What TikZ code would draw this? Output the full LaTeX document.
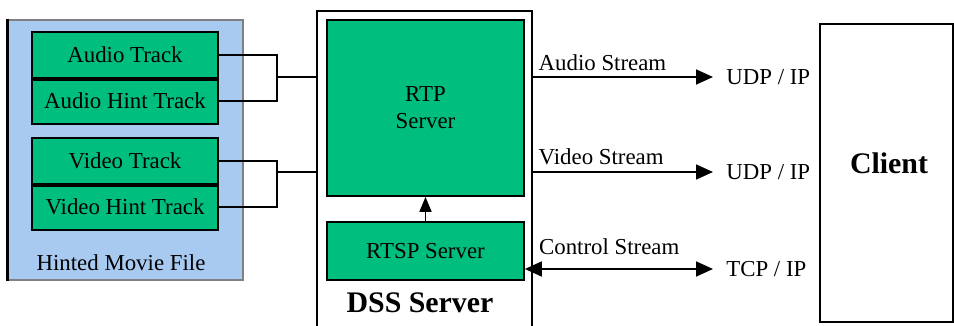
\documentclass[tikz,border=0pt]{standalone}
\usepackage{fontspec}
\setmainfont{Liberation Serif}
\usetikzlibrary{arrows.meta}
\definecolor{trackgreen}{RGB}{0,190,125}
\definecolor{fileblue}{RGB}{168,202,240}

\begin{document}
\begin{tikzpicture}[x=0.02cm,y=-0.02cm,line width=1pt,
  font=\fontsize{13}{15.5}\selectfont,
  track/.style={draw,fill=trackgreen,minimum width=3.72cm,minimum height=0.92cm,inner sep=0pt},
  srvbox/.style={draw,fill=trackgreen,minimum width=3.94cm,inner sep=0pt,align=center},
  proto/.style={anchor=west,inner xsep=0.25cm},
  tip/.style={-{Triangle[length=0.34cm,width=0.3cm]}},
  bigbold/.style={font=\fontsize{17}{20}\selectfont\bfseries}]
\useasboundingbox (0,0) rectangle (954,325);
% hinted movie file
\node[draw=black!50,fill=fileblue,minimum width=4.7cm,minimum height=5.2cm] (hmf) at (125.5,150) {};
\draw[line width=1.6pt] (hmf.north west) -- (hmf.south west);
\node (hmflbl) at (121,263) {Hinted Movie File};
\node[track] (atrack) at (125,55) {Audio Track};
\node[track] (ahint) at (125,101) {Audio Hint Track};
\node[track] (vtrack) at (125,161) {Video Track};
\node[track] (vhint) at (125,207) {Video Hint Track};
\draw[line width=2.5pt] (atrack.south west) -- (atrack.south east);
\draw[line width=2.5pt] (vtrack.south west) -- (vtrack.south east);
% dss server
\coordinate (dssne) at (532,11);
\coordinate (dsssw) at (317,330);
\coordinate (dssse) at (532,330);
\draw (dsssw) |- (dssne) -- (dssse);
\node[srvbox,minimum height=3.52cm] (rtp) at (425.5,108) {RTP\\Server};
\node[srvbox,minimum height=1.16cm] (rtsp) at (425.5,251) {RTSP Server};
\node[bigbold] (dsslbl) at (420,303) {DSS Server};
\draw[-{Triangle[length=0.3cm,width=0.24cm]}] (rtsp) -- (rtp);
% tracks to server
\coordinate (ajoin) at (277,77);
\coordinate (vjoin) at (277,172);
\draw (atrack.east) -| (ajoin) |- (ahint.east);
\draw (vtrack.east) -| (vjoin) |- (vhint.east);
\draw (ajoin) -- (ajoin -| dsssw);
\draw (vjoin) -- (vjoin -| dsssw);
% client
\node[draw,minimum width=2.66cm,minimum height=5.96cm] (client) at (886.5,173) {};
\node[bigbold] (clientlbl) at (889,163) {Client};
% streams
\node[proto] (udpa) at (713,77) {UDP / IP};
\node[proto] (udpv) at (713,172) {UDP / IP};
\node[proto] (tcp) at (713,269) {TCP / IP};
\draw[tip] (dssne |- udpa) -- node[pos=0,above right] {Audio Stream} (udpa.west);
\draw[tip] (dssne |- udpv) -- node[pos=0,above right] {Video Stream} (udpv.west);
\draw[{Triangle[length=0.34cm,width=0.3cm]}-{Triangle[length=0.34cm,width=0.3cm]}]
  (rtsp.east |- tcp) -- node[pos=0,above right,xshift=0.15cm,yshift=0.16cm] {Control Stream} (tcp.west);
\end{tikzpicture}
\end{document}
